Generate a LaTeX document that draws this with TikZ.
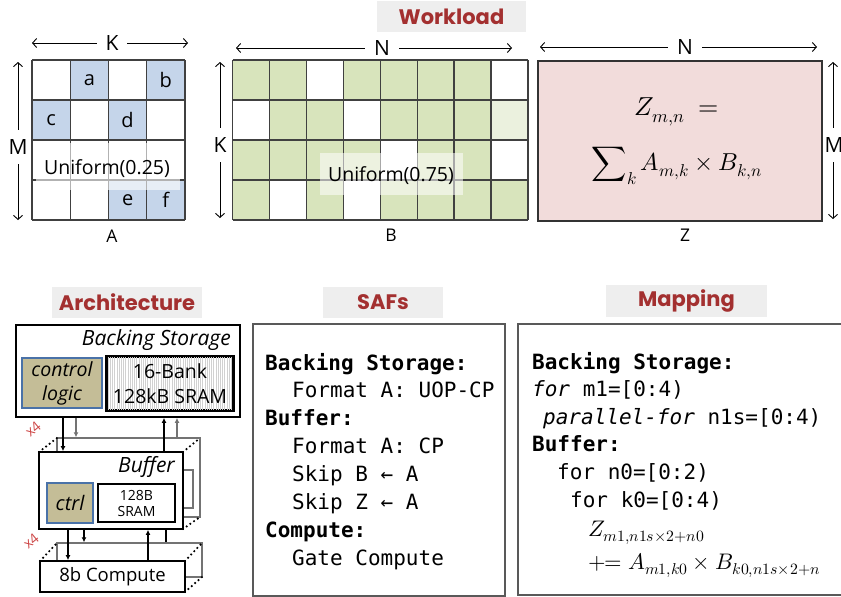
\documentclass[tikz,border=0pt]{standalone}
\usepackage{unicode-math}
\setmainfont{Open Sans}
\setmonofont{DejaVu Sans Mono}
\setmathfont{Latin Modern Math}
\newfontfamily\titlefont{Poppins}
\usetikzlibrary{arrows.meta,calc}
\definecolor{cellblue}{RGB}{197,213,234}
\definecolor{cellgreen}{RGB}{216,228,188}
\definecolor{cellgreenl}{RGB}{235,241,222}
\definecolor{zpink}{RGB}{242,220,219}
\definecolor{tan}{RGB}{196,189,151}
\definecolor{ctrlblue}{RGB}{74,114,168}
\definecolor{titlegray}{RGB}{238,238,238}
\definecolor{titlered}{RGB}{163,48,48}
\definecolor{xred}{RGB}{205,70,70}
\begin{document}
\begin{tikzpicture}[x=1pt,y=-1pt,
  gridline/.style={draw=black!75,line width=1.3pt},
  dimarrow/.style={{Straight Barb[length=4pt,width=9pt]}-{Straight Barb[length=4pt,width=9pt]},line width=0.9pt},
  hlabel/.style={fill=white,inner xsep=9pt,inner ysep=1pt,font=\fontsize{21}{23}\selectfont},
  vlabel/.style={fill=white,inner xsep=1pt,inner ysep=10pt,font=\fontsize{21}{23}\selectfont},
  matlabel/.style={font=\fontsize{17.5}{20}\selectfont},
  celltext/.style={font=\fontsize{20}{22}\selectfont},
  titlebox/.style={fill=titlegray,inner sep=0pt,text=titlered,font=\titlefont\bfseries\fontsize{21}{23}\selectfont},
  box/.style={draw=black,line width=1.8pt,fill=white,inner sep=0pt},
  backbox/.style={draw=black!55,line width=1.5pt,fill=white,inner sep=0pt},
  ctrlbox/.style={draw=ctrlblue,line width=1.6pt,fill=tan,inner sep=0pt},
  arr/.style={-{Latex[length=5pt,width=5pt]},line width=1.2pt},
  garr/.style={-{Latex[length=5pt,width=5pt]},line width=1.2pt,draw=black!55},
  dots/.style={line width=2.4pt,line cap=round,dash pattern=on 0pt off 4.5pt},
  xfour/.style={text=xred,inner sep=0pt,font=\fontsize{14}{15}\selectfont,rotate=40},
  code/.style={anchor=base west,inner sep=0pt,font=\ttfamily\fontsize{21}{24}\selectfont},
  codeb/.style={code,font=\ttfamily\bfseries\fontsize{21}{24}\selectfont},
  mathline/.style={anchor=base west,inner sep=0pt,font=\fontsize{22.5}{24}\selectfont},
  panel/.style={draw=black!65,line width=1.2pt}
]
\useasboundingbox (0,0) rectangle (841,597);

% ---------------- Titles
\node[titlebox,minimum width=149,minimum height=31] (tw) at (451.5,16.5) {Workload};
\node[titlebox,minimum width=150,minimum height=31] (ta) at (127,302.5) {Architecture};
\node[titlebox,minimum width=120,minimum height=31] (ts) at (383,302.5) {SAFs};
\node[titlebox,minimum width=161,minimum height=32] (tm) at (686.5,301) {Mapping};

% ---------------- Matrix A
\foreach \c/\r in {1/0,3/0,0/1,2/1,2/3,3/3}
  \fill[cellblue] ({32+\c*38.25},{60+\r*40}) rectangle ++(38.25,40);
\foreach \t/\c/\r in {a/1/0,b/3/0,c/0/1,d/2/1,e/2/3,f/3/3}
  \node[celltext] (A\t) at ({32+(\c+0.5)*38.25},{80+\r*40}) {\t};
\foreach \i in {0,...,4} \draw[gridline] ({32+\i*38.25},60) -- ++(0,160);
\foreach \j in {0,...,4} \draw[gridline] (32,{60+\j*40}) -- ++(153,0);
\fill[white,opacity=0.6] (36,143) rectangle (180,190);
\node[celltext,font=\fontsize{19.5}{22}\selectfont] (ua) at (107,169) {Uniform(0.25)};
\draw[dimarrow] (32,43) -- (188,43);
\node[hlabel] (kA) at (112,43) {K};
\draw[dimarrow] (18,62) -- (18,220);
\node[vlabel] (mA) at (18,147) {M};
\node[matlabel] (lA) at (112,236) {A};

% ---------------- Matrix B
\fill[cellgreen] (232.5,60) rectangle (528,220);
\foreach \c/\r in {2/0,7/0,0/1,3/1,4/2,7/2,1/3,3/3}
  \fill[white] ({232.5+\c*36.94},{60+\r*40}) rectangle ++(36.94,40);
\fill[cellgreenl] ({232.5+7*36.94},100) rectangle ++(36.94,40);
\foreach \i in {0,...,8} \draw[gridline] ({232.5+\i*36.94},60) -- ++(0,160);
\foreach \j in {0,...,4} \draw[gridline] (232.5,{60+\j*40}) -- ++(295.5,0);
\fill[white,opacity=0.55] (320,153) rectangle (463,195);
\node[celltext,font=\fontsize{19.5}{22}\selectfont] (ub) at (391,176) {Uniform(0.75)};
\draw[dimarrow] (236,48) -- (512,48);
\node[hlabel] (nB) at (382,48) {N};
\draw[dimarrow] (220,62) -- (220,218);
\node[vlabel] (kB) at (220,145) {K};
\node[matlabel] (lB) at (391,235) {B};

% ---------------- Matrix Z
\node[draw=black!80,line width=1.3pt,fill=zpink,minimum width=284,minimum height=160,inner sep=0pt] (Z) at (680,141) {};
\node[font=\fontsize{26}{28}\selectfont] (z1) at (677,112) {$Z_{m,n}\ =$};
\node[font=\fontsize{24.5}{28}\selectfont] (z2) at (677,166) {$\displaystyle\sum\nolimits_k A_{m,k}\times B_{k,n}$};
\draw[dimarrow] (540,47) -- (817,47);
\node[hlabel] (nZ) at (685,47) {N};
\draw[dimarrow] (833,62) -- (833,219);
\node[vlabel] (mZ) at (834,145) {M};
\node[matlabel] (lZ) at (685,235) {Z};

% ---------------- Architecture
\node[box,minimum width=224,minimum height=92] (bs) at (128,371) {};
\node[anchor=east,inner sep=0pt,font=\itshape\fontsize{21}{23}\selectfont] (bst) at (231,340) {Backing Storage};
\node[ctrlbox,minimum width=80,minimum height=50,align=center,font=\itshape\fontsize{19.5}{24}\selectfont] (cl) at (62,383) {control\\logic};
\node[draw=black,line width=1.6pt,minimum width=126,minimum height=53,inner sep=0pt] (sram) at (170,383.5) {};
\begin{scope}
  \clip (107,357) rectangle (233,410);
  \foreach \x in {108,110.2,...,233} \draw[black!18,line width=0.5pt] (\x,357) -- (\x,410);
\end{scope}
\draw[black,line width=1.6pt] (sram.north west) rectangle (sram.south east);
\node[align=center,font=\fontsize{19.5}{25}\selectfont] (sramt) at (170,383.5) {16-Bank\\128kB SRAM};

% buffer back copy
\node[backbox,minimum width=143,minimum height=79] (bufb) at (128.5,477.5) {};
\node[draw=black!55,line width=1.5pt,minimum width=77,minimum height=38,inner sep=0pt] (srambb) at (154.5,489) {};
\draw[dots] (39,452) -- (57,438);
\draw[dots] (183,452) -- (200,438);
\draw[dots] (183,529) -- (200,517);
\node[xfour] (x4a) at (33,429) {x4};
% buffer front
\node[box,minimum width=144,minimum height=77] (buf) at (111,490.5) {};
\node[anchor=east,inner sep=0pt,font=\itshape\fontsize{21}{23}\selectfont] (buft) at (175,467) {Buffer};
\node[ctrlbox,minimum width=46,minimum height=40,font=\itshape\fontsize{20}{22}\selectfont] (ctrl) at (70,503) {ctrl};
\node[draw=black,line width=1.5pt,minimum width=77,minimum height=38,inner sep=0pt,align=center,font=\fontsize{14}{16}\selectfont] (sram2) at (136.5,503) {128B\\SRAM};

% compute back copy
\node[backbox,minimum width=145,minimum height=34] (compb) at (129.5,560) {};
\draw[dots] (40,561) -- (57,543);
\draw[dots] (185,561) -- (202,543);
\draw[dots] (185,592) -- (202,577);
\node[xfour] (x4b) at (31,541) {x4};
\node[box,minimum width=145,minimum height=31,font=\fontsize{18.5}{20}\selectfont] (comp) at (112.5,576.5) {8b Compute};

% connectors
\coordinate (c63) at (63,0);
\coordinate (c76) at (76,0);
\coordinate (c164) at (164,0);
\coordinate (c177) at (177,0);
\coordinate (c68) at (68,0);
\coordinate (c84) at (84,0);
\coordinate (c148) at (148,0);
\coordinate (c166) at (166,0);
\draw[arr] (bs.south -| c63) -- (buf.north -| c63);
\draw[garr] (bs.south -| c76) -- (bufb.north -| c76);
\draw[arr] (buf.north -| c164) -- (bs.south -| c164);
\draw[garr] (bufb.north -| c177) -- (bs.south -| c177);
\draw[arr] (buf.south -| c68) -- (comp.north -| c68);
\draw[arr] (buf.south -| c84) -- (compb.north -| c84);
\draw[arr] (comp.north -| c148) -- (buf.south -| c148);
\draw[line width=1.2pt] (buf.south -| c166) -- (compb.north -| c166);

% ---------------- SAFs
\node[panel,minimum width=252,minimum height=272,inner sep=0pt] (saf) at (379,460) {};
\node[codeb] (s1) at (265,370) {Backing Storage:};
\node[code] (s2) at (292,397.9) {Format A: UOP-CP};
\node[codeb] (s3) at (265,425.8) {Buffer:};
\node[code] (s4) at (292,453.7) {Format A: CP};
\node[code] (s5) at (292,481.6) {Skip B ← A};
\node[code] (s6) at (292,509.5) {Skip Z ← A};
\node[codeb] (s7) at (265,537.4) {Compute:};
\node[code] (s8) at (292,565.3) {Gate Compute};

% ---------------- Mapping
\draw[panel] (850,324) -- (518,324) -- (518,595) -- (850,595);
\node[codeb] (m1) at (532,369) {Backing Storage:};
\node[code] (m2) at (532,396.6) {{\itshape for} m1=[0:4)};
\node[code] (m3) at (543,424.2) {{\itshape parallel-for} n1s=[0:4)};
\node[codeb] (m4) at (532,451.8) {Buffer:};
\node[code] (m5) at (557,479.4) {for n0=[0:2)};
\node[code] (m6) at (570,507) {for k0=[0:4)};
\node[mathline] (m7) at (588,536) {$Z_{m1,n1s\times2+n0}$};
\node[mathline] (m8) at (588,569) {$+\!\!= A_{m1,k0}\times B_{k0,n1s\times2+n}$};
\end{tikzpicture}
\end{document}
